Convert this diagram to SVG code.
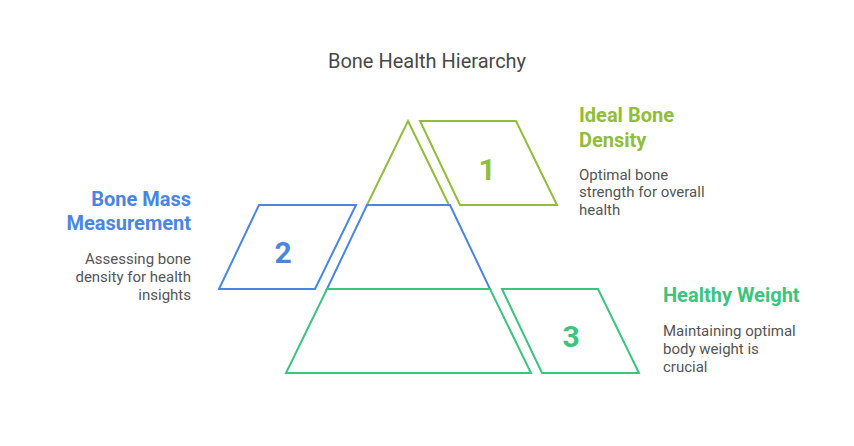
<svg xmlns="http://www.w3.org/2000/svg" width="854" height="446" viewBox="0 0 854 446">
<style>
.title{font-family:Roboto,"Liberation Sans",sans-serif;font-size:20px;fill:#484848}
.head{font-family:Roboto,"Liberation Sans",sans-serif;font-size:20px;font-weight:bold}
.desc{font-family:Roboto,"Liberation Sans",sans-serif;font-size:15px;fill:#555555}
.num{font-family:Roboto,"Liberation Sans",sans-serif;font-size:30px;font-weight:bold;text-anchor:middle}
.shape{fill:none;stroke-width:2;stroke-linejoin:miter}
.c1{stroke:#92BC3B}.f1{fill:#92BC3B}
.c2{stroke:#4A86E0}.f2{fill:#4A86E0}
.c3{stroke:#3CC47F}.f3{fill:#3CC47F}
</style>
<rect width="854" height="446" fill="#ffffff"/>
<text class="title" x="427" y="68" text-anchor="middle">Bone Health Hierarchy</text>
<g id="tier1">
<polygon class="shape c1" points="408,121 449,205 367,205"/>
<polygon class="shape c1" points="420,121 516,121 557,205 460,205"/>
<text class="num f1" x="487" y="180">1</text>
<text class="head f1" x="579" y="122">Ideal Bone</text>
<text class="head f1" x="579" y="147">Density</text>
<text class="desc" x="579" y="180">Optimal bone</text>
<text class="desc" x="579" y="197">strength for overall</text>
<text class="desc" x="579" y="215">health</text>
</g>
<g id="tier2">
<polygon class="shape c2" points="367,205 450,205 490,289 327,289"/>
<polygon class="shape c2" points="259,205 356,205 315,289 219,289"/>
<text class="num f2" x="283" y="263">2</text>
<text class="head f2" x="191" y="206" text-anchor="end">Bone Mass</text>
<text class="head f2" x="191" y="230" text-anchor="end">Measurement</text>
<text class="desc" x="191" y="264" text-anchor="end">Assessing bone</text>
<text class="desc" x="191" y="282" text-anchor="end">density for health</text>
<text class="desc" x="191" y="300" text-anchor="end">insights</text>
</g>
<g id="tier3">
<polygon class="shape c3" points="327,289 490,289 531,373 286,373"/>
<polygon class="shape c3" points="502,289 598,289 639,373 542,373"/>
<text class="num f3" x="571" y="347">3</text>
<text class="head f3" x="663" y="302">Healthy Weight</text>
<text class="desc" x="663" y="336">Maintaining optimal</text>
<text class="desc" x="663" y="354">body weight is</text>
<text class="desc" x="663" y="372">crucial</text>
</g>
<g id="connectors"></g>
</svg>
